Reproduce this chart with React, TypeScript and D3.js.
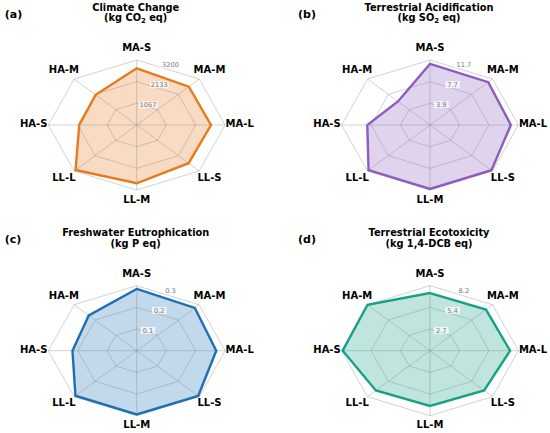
import React from 'react';
import * as d3 from 'd3';

const categories = ['MA-S', 'MA-M', 'MA-L', 'LL-S', 'LL-M', 'LL-L', 'HA-S', 'HA-M'];

const climateChange = [2790, 2670, 2690, 2660, 2870, 3130, 2080, 2100];
const acidification = [11.0, 10.9, 10.7, 11.5, 11.5, 11.5, 8.3, 6.0];
const eutrophication = [0.285, 0.279, 0.27, 0.295, 0.294, 0.294, 0.218, 0.23];
const ecotoxicity = [7.27, 7.34, 7.43, 7.1, 6.97, 7.1, 8.1, 8.2];

const titles = ['Climate Change', 'Terrestrial Acidification', 'Freshwater Eutrophication', 'Terrestrial Ecotoxicity'];
const units = ['(kg CO_2 eq)', '(kg SO_2 eq)', '(kg P eq)', '(kg 1,4-DCB eq)'];
const letters = ['(a)', '(b)', '(c)', '(d)'];
const rMax = [3200, 11.7, 0.3, 8.2];
const ringLabels = [
  ['1067', '2133', '3200'],
  ['3.9', '7.7', '11.7'],
  ['0.1', '0.2', '0.3'],
  ['2.7', '5.4', '8.2'],
];
const colors = ['#e67a1e', '#8e5bbf', '#1f6fb4', '#16a085'];

const W = 550;
const H = 433;
const RX = 88.4;
const RY = 65;
const FONT = 'DejaVu Sans';

// render "CO_2" as CO with a subscript 2
const Unit: React.FC<{ text: string }> = ({ text }) => {
  const parts = text.split('_');
  if (parts.length === 1) return <>{text}</>;
  return (
    <>
      {parts[0]}
      <tspan fontSize={6.8} dy={2}>{parts[1][0]}</tspan>
      <tspan dy={-2}>{parts[1].slice(1)}</tspan>
    </>
  );
};

interface RadarProps {
  cx: number;
  cy: number;
  values: number[];
  max: number;
  ticks: string[];
  color: string;
  title: string;
  unit: string;
  letter: string;
}

const Radar: React.FC<RadarProps> = ({ cx, cy, values, max, ticks, color, title, unit, letter }) => {
  const r = d3.scaleLinear().domain([0, max]).range([0, 1]);
  const angle = d3.scaleLinear().domain([0, categories.length]).range([0, 2 * Math.PI]);
  const px = (i: number, f: number) => cx + RX * f * Math.sin(angle(i));
  const py = (i: number, f: number) => cy - RY * f * Math.cos(angle(i));

  const ring = (f: number) =>
    d3.line<string>()
      .x((_, i) => px(i, f))
      .y((_, i) => py(i, f))
      .curve(d3.curveLinearClosed)(categories) || '';

  const dataPath = d3.line<number>()
    .x((v, i) => px(i, r(v)))
    .y((v, i) => py(i, r(v)))
    .curve(d3.curveLinearClosed)(values) || '';

  const levels = ticks.map((_, k) => (k + 1) / ticks.length);

  return (
    <g fontFamily={FONT}>
      <text x={cx - 132} y={17.5} fontSize={11} fontWeight="bold">{letter}</text>
      <text x={cx - 1} y={10.5} fontSize={9.8} fontWeight="bold" textAnchor="middle">{title}</text>
      <text x={cx - 1} y={21} fontSize={9.8} fontWeight="bold" textAnchor="middle">
        <Unit text={unit} />
      </text>

      <path d={dataPath} fill={color} fillOpacity={0.27} stroke="none" />

      <g stroke="#808080" strokeOpacity={0.45} strokeWidth={0.8} fill="none">
        {levels.map((f, k) => <path key={k} d={ring(f)} />)}
        {categories.map((_, i) => (
          <line key={i} x1={cx} y1={cy} x2={px(i, 1)} y2={py(i, 1)} />
        ))}
      </g>

      <path d={dataPath} fill="none" stroke={color} strokeWidth={2.4} strokeLinejoin="miter" />

      {ticks.map((t, k) => {
        const x = px(0.5, levels[k]);
        const y = py(0.5, levels[k]);
        const w = t.length * 4.2 + 2;
        return (
          <g key={t}>
            <rect x={x - w / 2} y={y - 3.8} width={w} height={7} fill="#fff" fillOpacity={0.7} />
            <text x={x} y={y} fontSize={6.7} fill="#777" textAnchor="middle" dominantBaseline="central">{t}</text>
          </g>
        );
      })}

      {categories.map((c, i) => (
        <text
          key={c}
          x={px(i, 1.165)}
          y={py(i, 1.165) - 1.5}
          fontSize={10}
          fontWeight="bold"
          textAnchor="middle"
          dominantBaseline="central"
        >
          {c}
        </text>
      ))}
    </g>
  );
};

const series = [climateChange, acidification, eutrophication, ecotoxicity];
const colX = [136.7, 430];
const rowY = [0, 225.7];

const App: React.FC = () => (
  <svg width={W} height={H} style={{ position: 'absolute', left: 0, top: 0, background: '#fff' }}>
    {series.map((vals, k) => {
      const col = k % 2;
      const row = Math.floor(k / 2);
      return (
        <g key={k} transform={`translate(0,${rowY[row]})`}>
          <Radar
            cx={colX[col]}
            cy={125}
            values={vals}
            max={rMax[k]}
            ticks={ringLabels[k]}
            color={colors[k]}
            title={titles[k]}
            unit={units[k]}
            letter={letters[k]}
          />
        </g>
      );
    })}
  </svg>
);

export default App;
